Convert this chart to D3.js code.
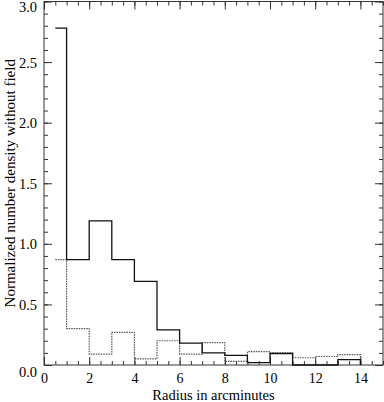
<!DOCTYPE html>
<meta charset="utf-8">
<script src="https://d3js.org/d3.v7.min.js"></script>
<style>
  body { margin: 0; background: #fff; }
</style>
<div id="chart"></div>
<script>

// bin edges (arcmin), last edge closes the histogram
var binStarts = [0.5, 1, 2, 3, 4, 5, 6, 7, 8, 9, 10, 11, 12, 13];
var binEnd = 14;

// normalized number density without field
var solidSeries  = [2.78, 0.87, 1.19, 0.87, 0.69, 0.29, 0.18, 0.10, 0.08, 0.02, 0.095, 0.0, 0.0, 0.045];
var dottedSeries = [0.87, 0.30, 0.09, 0.27, 0.05, 0.20, 0.09, 0.185, 0.03, 0.11, 0.10, 0.06, 0.07, 0.085];

var xMajor = [0, 2, 4, 6, 8, 10, 12, 14];
var yMajor = [0.0, 0.5, 1.0, 1.5, 2.0, 2.5, 3.0];

var W = 384, H = 402;
var margin = {top: 1.5, right: 1, bottom: 37, left: 44};
var serif = "'Liberation Serif'";

var svg = d3.select("#chart").append("svg")
    .attr("width", W)
    .attr("height", H);

var x = d3.scaleLinear().domain([0, 15]).range([margin.left, W - margin.right]);
var y = d3.scaleLinear().domain([0, 3]).range([H - margin.bottom, margin.top]);

var axisColor = "#333";

// frame
svg.append("rect")
  .attr("x", x(0)).attr("y", y(3))
  .attr("width", x(15) - x(0)).attr("height", y(0) - y(3))
  .attr("fill", "none").attr("stroke", axisColor).attr("stroke-width", 1);

function styleAxis(g) {
  g.attr("font-family", null).attr("font-size", null);
  g.select(".domain").remove();
  g.selectAll("line").attr("stroke", axisColor);
  g.selectAll("text").attr("fill", "#000")
    .attr("font-size", 14.5)
    .style("font-family", serif);
}

var xMinor = d3.range(0, 15.01, 0.5);
var yMinor = d3.range(0, 3.001, 0.1);

// minor ticks, all four sides, pointing inward
svg.append("g").attr("transform", "translate(0," + y(0) + ")")
  .call(d3.axisBottom(x).tickValues(xMinor).tickSize(-4).tickFormat(""))
  .call(styleAxis);
svg.append("g").attr("transform", "translate(0," + y(3) + ")")
  .call(d3.axisTop(x).tickValues(xMinor).tickSize(-4).tickFormat(""))
  .call(styleAxis);
svg.append("g").attr("transform", "translate(" + x(0) + ",0)")
  .call(d3.axisLeft(y).tickValues(yMinor).tickSize(-4).tickFormat(""))
  .call(styleAxis);
svg.append("g").attr("transform", "translate(" + x(15) + ",0)")
  .call(d3.axisRight(y).tickValues(yMinor).tickSize(-4).tickFormat(""))
  .call(styleAxis);

// major ticks with labels
var xl = svg.append("g").attr("transform", "translate(0," + y(0) + ")")
  .call(d3.axisBottom(x).tickValues(xMajor).tickSize(-8).tickPadding(8).tickFormat(d3.format("d")))
  .call(styleAxis);
xl.selectAll("text").attr("font-size", 14);

svg.append("g").attr("transform", "translate(0," + y(3) + ")")
  .call(d3.axisTop(x).tickValues(xMajor).tickSize(-8).tickFormat(""))
  .call(styleAxis);

var yl = svg.append("g").attr("transform", "translate(" + x(0) + ",0)")
  .call(d3.axisLeft(y).tickValues(yMajor).tickSize(-8).tickPadding(7).tickFormat(d3.format(".1f")))
  .call(styleAxis);
yl.selectAll("text")
  .attr("dy", function(d) { return d === 0 ? "0.8em" : (d === 3 ? "0.7em" : "0.35em"); });

svg.append("g").attr("transform", "translate(" + x(15) + ",0)")
  .call(d3.axisRight(y).tickValues(yMajor).tickSize(-8).tickFormat(""))
  .call(styleAxis);

// histograms
function histPoints(vals) {
  var pts = binStarts.map(function(b, i) { return [b, vals[i]]; });
  pts.push([binEnd, 0]);
  return pts;
}

var step = d3.line()
  .x(function(d) { return x(d[0]); })
  .y(function(d) { return y(d[1]); })
  .curve(d3.curveStepAfter);

svg.append("path")
  .datum(histPoints(dottedSeries))
  .attr("fill", "none")
  .attr("stroke", "#555")
  .attr("stroke-width", 1.2)
  .attr("stroke-dasharray", "1.5,1")
  .attr("d", step);

svg.append("path")
  .datum(histPoints(solidSeries))
  .attr("fill", "none")
  .attr("stroke", "#111")
  .attr("stroke-width", 1.3)
  .attr("d", step);

// axis titles
svg.append("text")
  .attr("x", (x(0) + x(15)) / 2)
  .attr("y", 400)
  .attr("text-anchor", "middle")
  .attr("fill", "#000")
  .attr("font-size", 14.5)
  .style("font-family", serif)
  .text("Radius in arcminutes");

svg.append("text")
  .attr("transform", "translate(15," + (y(0) + y(3)) / 2 + ") rotate(-90)")
  .attr("text-anchor", "middle")
  .attr("fill", "#000")
  .attr("font-size", 15)
  .style("font-family", serif)
  .text("Normalized number density without field");

</script>
